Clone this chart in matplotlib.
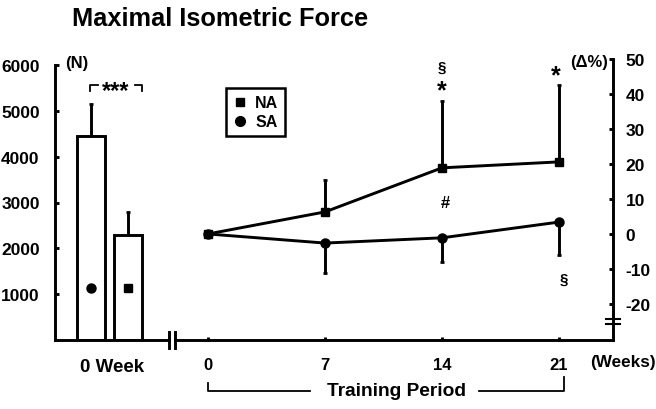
import matplotlib.pyplot as plt
from matplotlib.lines import Line2D

plt.rcParams['font.family'] = ['Liberation Sans', 'DejaVu Sans']
plt.rcParams['font.weight'] = 'bold'
plt.rcParams['axes.unicode_minus'] = False

# 0 week absolute force (N)
bar_pos = [0, 1]
bar_vals = [4450, 2300]
bar_err = [700, 500]
bar_marks = ['o', 's']
mark_level = 1130

# training period, change from baseline (%)
weeks = [0, 7, 14, 21]
na_mean = [0, 6.3, 18.9, 20.6]
na_err = [0, 9.1, 19.1, 22.0]
sa_mean = [0, -2.6, -1.1, 3.4]
sa_err = [0, 8.5, 6.9, 9.4]

lw = 2.1
W, H = 656, 410
fig = plt.figure(figsize=(6.56, 4.1), dpi=100)

# left panel, bars
ax1 = fig.add_axes([55 / W, 69 / H, 113.5 / W, 275 / H])
ax1.bar(bar_pos, bar_vals, width=0.75, color='white', edgecolor='black', linewidth=lw, zorder=2)
ax1.errorbar(bar_pos, bar_vals, yerr=[[0, 0], bar_err], fmt='none', ecolor='black',
             elinewidth=lw, capsize=1.5, capthick=2, zorder=1)
for p, m in zip(bar_pos, bar_marks):
    ax1.plot(p, mark_level, marker=m, color='black', markersize=6.5 if m == 'o' else 6, zorder=3)
ax1.set_xlim(-0.96, 2.07)
ax1.set_ylim(0, 6000)
ax1.set_yticks([1000, 2000, 3000, 4000, 5000, 6000])
ax1.set_xticks([])
ax1.tick_params(axis='y', direction='in', length=3, width=lw, labelsize=12.5, pad=11)
for s in ['top', 'right']:
    ax1.spines[s].set_visible(False)
for s in ['left', 'bottom']:
    ax1.spines[s].set_linewidth(lw)
for lab in ax1.get_yticklabels():
    lab.set_fontweight('bold')
ax1.text(-0.37, 6050, '(N)', fontsize=12, ha='center', va='center')
# significance bracket
ax1.plot([-0.03, -0.03, 0.19], [5435, 5565, 5565], color='black', lw=1.3, clip_on=False)
ax1.plot([1.17, 1.36, 1.36], [5565, 5565, 5435], color='black', lw=1.3, clip_on=False)
ax1.text(0.67, 5450, '***', fontsize=17, ha='center', va='center')
ax1.text(0.55, -0.098, '0 Week', fontsize=13.5, ha='center', va='center',
         transform=ax1.get_xaxis_transform())
ax1.plot([1, 1], [-0.029, 0.029], color='black', lw=lw, transform=ax1.transAxes, clip_on=False)

# right panel, lines
ax2 = fig.add_axes([174.5 / W, 69 / H, 438.5 / W, 281 / H])
ax2.errorbar(weeks, na_mean, yerr=[[0] * 4, na_err], color='black', lw=lw, marker='s',
             markersize=5.5, elinewidth=lw, capsize=1.5, capthick=2)
ax2.errorbar(weeks, sa_mean, yerr=[sa_err, [0] * 4], color='black', lw=lw, marker='o',
             markersize=6.5, elinewidth=lw, capsize=1.5, capthick=2)
ax2.set_xlim(-2.0, 24.23)
ax2.set_ylim(-30.3, 50)
ax2.set_xticks(weeks)
ax2.set_yticks(range(-20, 51, 10))
ax2.yaxis.tick_right()
ax2.tick_params(axis='y', direction='in', length=3, width=lw, labelsize=12.5, pad=9)
ax2.tick_params(axis='x', direction='in', length=2, width=lw, labelsize=12, pad=12)
for s in ['top', 'left']:
    ax2.spines[s].set_visible(False)
for s in ['right', 'bottom']:
    ax2.spines[s].set_linewidth(lw)
for lab in ax2.get_xticklabels() + ax2.get_yticklabels():
    lab.set_fontweight('bold')
ax2.plot([0, 0], [-0.028, 0.028], color='black', lw=lw, transform=ax2.transAxes, clip_on=False)
ax2.plot([0.985, 1.015], [-24.4, -24.4], color='black', lw=1.5,
         transform=ax2.get_yaxis_transform(), clip_on=False)
ax2.plot([0.985, 1.015], [-25.8, -25.8], color='black', lw=1.5,
         transform=ax2.get_yaxis_transform(), clip_on=False)

ax2.text(22.8, 49.2, '(Δ%)', fontsize=12, ha='center', va='center')
ax2.text(1.022, -0.075, '(Weeks)', fontsize=12.3, ha='center', va='center', transform=ax2.transAxes)
ax2.text(14, 47.7, '§', fontsize=11, ha='center', va='center')
ax2.text(14, 41, '*', fontsize=18, ha='center', va='center')
ax2.text(20.8, 45.3, '*', fontsize=18, ha='center', va='center')
ax2.text(14.2, 9.1, '#', fontsize=12, ha='center', va='center')
ax2.text(21.3, -12.9, '§', fontsize=11, ha='center', va='center')

tr = ax2.get_xaxis_transform()
ax2.plot([0, 0, 6.1], [-0.153, -0.181, -0.181], color='black', lw=1.3, transform=tr, clip_on=False)
ax2.plot([16.2, 21.3, 21.3], [-0.181, -0.181, -0.13], color='black', lw=1.3, transform=tr, clip_on=False)
ax2.text(11.28, -0.181, 'Training Period', fontsize=13.8, ha='center', va='center', transform=tr)

handles = [Line2D([], [], color='black', marker='s', ls='none', markersize=6),
           Line2D([], [], color='black', marker='o', ls='none', markersize=7)]
leg = ax2.legend(handles, ['NA', 'SA'], loc='upper left', bbox_to_anchor=(0.1, 0.925),
                 fancybox=False, edgecolor='black', framealpha=1, fontsize=11.5,
                 handlelength=0.8, handletextpad=0.55, borderpad=0.45, labelspacing=0.25)
leg.get_frame().set_linewidth(1.8)

fig.text(72 / W, 1 - 19 / H, 'Maximal Isometric Force', fontsize=18.3, ha='left', va='center')

fig.savefig('out.png', dpi=100)
